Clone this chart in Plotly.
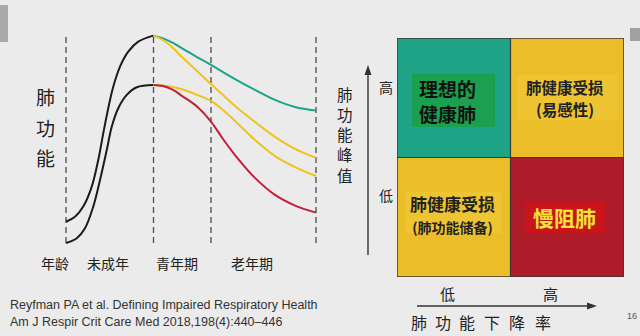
import plotly.graph_objects as go

W, H = 640, 336
BG = "#ebebeb"
CJK = "Noto Sans CJK SC"


def px(x):
    return x / W


def py(y):
    return 1 - y / H


# ---------------- data (left: lung function over life course) ----------------
stage_bounds = [0, 35, 58, 100]
stage_labels = ["年龄", "未成年", "青年期", "老年期"]

rise_hi_x = [0, 3.6, 6.9, 10.3, 12.9, 14.9, 16.9, 18.9, 21.6, 24.9, 28.9, 35]
rise_hi_y = [10.2, 12.6, 17.5, 27.1, 39.9, 52.7, 64.8, 75.1, 84.8, 92.0, 96.8, 99.7]
rise_lo_x = [0, 4.3, 7.6, 10.9, 13.6, 16.3, 18.3, 20.9, 24.3, 28.3, 35]
rise_lo_y = [0, 2.3, 7.1, 17.5, 30.3, 44.7, 55.9, 64.8, 71.2, 74.9, 76.0]

decline_x = [35, 38.8, 42.8, 46.8, 52.4, 58, 62.8, 67.6, 75.6, 83.6, 91.6, 100]
green_y = [99.7, 98.4, 96.2, 93.3, 89.4, 85.6, 82.2, 78.8, 73.6, 68.8, 65.4, 63.7]
yel_hi_y = [99.7, 97.6, 93.8, 88.9, 82.7, 76.4, 71.2, 65.9, 58.2, 51.0, 45.2, 40.9]
yel_lo_y = [76.0, 75.7, 75.0, 73.8, 71.2, 68.3, 63.9, 58.7, 49.5, 41.8, 36.5, 32.2]
red_y = [76.0, 75.5, 73.6, 70.4, 65.6, 58.4, 50.0, 42.3, 31.3, 23.1, 18.0, 14.6]

left_ylabel = "肺功能"

# ---------------- data (right: 2x2 quadrant) ----------------
quad_x = [0.5, 1.5]          # 肺功能下降率: 低, 高
quad_y = [0.5, 1.5]          # 肺功能峰值: 低, 高
quad_z = [[1, 2],            # low peak: 储备(yellow), 慢阻肺(red)
          [0, 1]]            # high peak: 理想(teal), 易感(yellow)
quad_colors = ["#1ea386", "#ebbe29", "#ad1c28"]
quad_texts = [
    "<b>理想的<br>健康肺</b>",
    ["<b>肺健康受损</b>", "<b>(易感性)</b>"],
    "<b>肺健康受损<br><span style='font-size:14px'>(肺功能储备)</span></b>",
    "<b>慢阻肺</b>",
]
right_ylabel = "肺功能峰值"
right_xlabel = "肺功能下降率"
level_labels = ["低", "高"]

citation = ["Reyfman PA et al. Defining Impaired Respiratory Health",
            "Am J Respir Crit Care Med 2018,198(4):440\u2013446"]

fig = go.Figure()

# ---------------- left curves ----------------
def curve(xs, ys, color):
    fig.add_trace(go.Scatter(x=xs, y=ys, mode="lines",
                             line=dict(color=color, width=2, shape="spline", smoothing=1.0),
                             hoverinfo="skip", showlegend=False, xaxis="x", yaxis="y"))

curve(rise_hi_x, rise_hi_y, "#1b1b1b")
curve(rise_lo_x, rise_lo_y, "#1b1b1b")
curve(decline_x, green_y, "#1aa588")
curve(decline_x, yel_hi_y, "#eec41c")
curve(decline_x, yel_lo_y, "#eec41c")
curve(decline_x, red_y, "#c2203a")

for b in stage_bounds:
    fig.add_shape(type="line", xref="x", yref="y", x0=b, x1=b, y0=0, y1=100,
                  line=dict(color="#555555", width=1.4, dash="6px,4px"), layer="below")


def label(text, x, y, size, color="#222222", family=CJK, xanchor="center", align="center"):
    fig.add_annotation(x=px(x), y=py(y), xref="paper", yref="paper", text=text,
                       showarrow=False, xanchor=xanchor, yanchor="middle", align=align,
                       font=dict(family=family, size=size, color=color))


for lab, sx in zip(stage_labels, [55, 108, 177, 252]):
    label(lab, sx, 263, 14)

for ch, cy in zip(left_ylabel, [97, 127, 157]):
    label(ch, 45, cy, 19)

# ---------------- right quadrant ----------------
cs = [[0, quad_colors[0]], [0.3333, quad_colors[0]],
      [0.3333, quad_colors[1]], [0.6667, quad_colors[1]],
      [0.6667, quad_colors[2]], [1, quad_colors[2]]]
fig.add_trace(go.Heatmap(x=quad_x, y=quad_y, z=quad_z, zmin=0, zmax=2, colorscale=cs,
                         showscale=False, hoverinfo="skip", xaxis="x2", yaxis="y2"))

fig.add_shape(type="rect", xref="x2", yref="y2", x0=0, x1=2, y0=0, y1=2,
              line=dict(color="#3a3a3a", width=1.5))
fig.add_shape(type="line", xref="x2", yref="y2", x0=1, x1=1, y0=0, y1=2,
              line=dict(color="#3a3a3a", width=1.2))
fig.add_shape(type="line", xref="x2", yref="y2", x0=0, x1=2, y0=1, y1=1,
              line=dict(color="#3a3a3a", width=1.2))

# label boxes (drawn as shapes), then text
box_specs = [  # (x0, x1, y0, y1, fill) in quadrant units
    (0.132, 0.863, 1.255, 1.699, "#1ba04f"),
    (1.057, 1.938, 1.314, 1.690, "#efc433"),
    (0.070, 0.925, 0.368, 0.711, "#efc433"),
    (1.128, 1.833, 0.368, 0.628, "#c9141c"),
]
for x0, x1, y0, y1, fc in box_specs:
    fig.add_shape(type="rect", xref="x2", yref="y2", x0=x0, x1=x1, y0=y0, y1=y1,
                  fillcolor=fc, line=dict(width=0))

fig.add_annotation(x=0.176, y=1.469, xref="x2", yref="y2", text=quad_texts[0], showarrow=False,
                   xanchor="left", align="left",
                   font=dict(family=CJK, size=19, color="#111111"))
label(quad_texts[1][0], 565, 87, 15.5)
label(quad_texts[1][1], 565, 109, 15.5)
fig.add_annotation(x=0.485, y=0.527, xref="x2", yref="y2", text=quad_texts[2], showarrow=False,
                   xanchor="center", align="center", font=dict(family=CJK, size=17, color="#222222"))
fig.add_annotation(x=1.48, y=0.498, xref="x2", yref="y2", text=quad_texts[3], showarrow=False,
                   xanchor="center", align="center", font=dict(family=CJK, size=21, color="#f4e23a"))

# axes arrows (lines + triangular heads)
AC = "#333333"
fig.add_shape(type="line", xref="paper", yref="paper", x0=px(368), x1=px(368),
              y0=py(255), y1=py(72), line=dict(color=AC, width=1.4))
fig.add_shape(type="path", xref="paper", yref="paper",
              path=f"M {px(368)},{py(65)} L {px(364.5)},{py(75)} L {px(371.5)},{py(75)} Z",
              fillcolor=AC, line=dict(width=0))
fig.add_shape(type="line", xref="paper", yref="paper", x0=px(417), x1=px(590),
              y0=py(306), y1=py(306), line=dict(color=AC, width=1.4))
fig.add_shape(type="path", xref="paper", yref="paper",
              path=f"M {px(597)},{py(306)} L {px(587)},{py(302.5)} L {px(587)},{py(309.5)} Z",
              fillcolor=AC, line=dict(width=0))

# level labels
for lab, cy in zip(level_labels[::-1], [87, 195]):
    label(lab, 386, cy, 14)
for lab, cx in zip(level_labels, [447, 550]):
    label(lab, cx, 293, 15)

label("<br>".join(right_ylabel), 345, 134.5, 15.5)
for ch, cx in zip(right_xlabel, [419, 443, 467, 492, 517, 543]):
    label(ch, cx, 322, 16)

# citation
for line, cy in zip(citation, [305, 322]):
    label(line, 8, cy, 12.5, color="#333333", family="Liberation Sans", xanchor="left", align="left")

label("16", 632, 316, 9, color="#555555", family="Liberation Sans")

# slide decorations
fig.add_shape(type="rect", xref="paper", yref="paper", x0=0, x1=px(8), y0=py(42), y1=py(5),
              fillcolor="#a9a9a9", line=dict(width=0))
fig.add_shape(type="rect", xref="paper", yref="paper", x0=px(630), x1=1, y0=py(41), y1=py(28),
              fillcolor="#a0a0a0", line=dict(width=0))

fig.update_layout(
    width=W, height=H, margin=dict(l=0, r=0, t=0, b=0),
    paper_bgcolor=BG, plot_bgcolor="rgba(0,0,0,0)",
    xaxis=dict(domain=[px(56), px(326)], range=[-4, 104], visible=False, fixedrange=True),
    yaxis=dict(domain=[py(253.4), py(24.6)], range=[-5, 105], visible=False, fixedrange=True),
    xaxis2=dict(domain=[px(397), px(624)], range=[0, 2], visible=False, anchor="y2", fixedrange=True),
    yaxis2=dict(domain=[py(277), py(38)], range=[0, 2], visible=False, anchor="x2", fixedrange=True),
    showlegend=False,
)

fig.write_html("out.html")
